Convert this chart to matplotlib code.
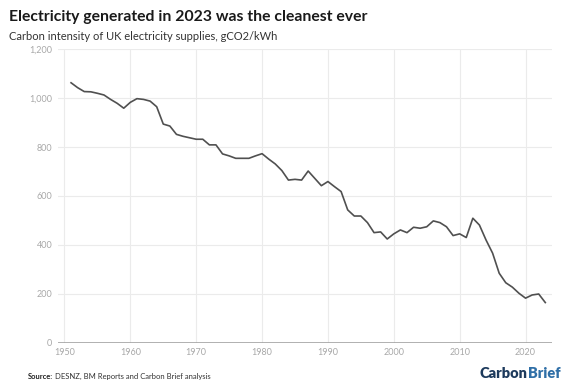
import matplotlib
matplotlib.use("Agg")
import matplotlib.pyplot as plt
from matplotlib.ticker import FuncFormatter

# carbon intensity of UK electricity supplies, gCO2/kWh
years = list(range(1951, 2024))
intensity = [1063, 1043, 1027, 1026, 1020, 1013, 995, 979, 959, 983,
             998, 995, 988, 965, 894, 886, 852, 844, 838, 832,
             832, 809, 809, 772, 764, 754, 754, 754, 764, 773,
             751, 731, 704, 665, 668, 665, 702, 672, 642, 659,
             638, 618, 543, 518, 518, 491, 450, 453, 424, 445,
             461, 450, 472, 468, 474, 498, 491, 474, 438, 445,
             430, 509, 481, 420, 366, 284, 245, 227, 202, 182,
             195, 199, 164]

x_ticks = [1950, 1960, 1970, 1980, 1990, 2000, 2010, 2020]
y_ticks = [0, 200, 400, 600, 800, 1000, 1200]

title = "Electricity generated in 2023 was the cleanest ever"
subtitle = "Carbon intensity of UK electricity supplies, gCO2/kWh"

plt.rcParams["font.family"] = ["Lato", "DejaVu Sans"]

fig = plt.figure(figsize=(5.62, 3.82), dpi=100)
ax = fig.add_axes([0.103, 0.103, 0.879, 0.768])

ax.plot(years, intensity, color="#505050", linewidth=1.2, solid_joinstyle="round")

ax.set_xlim(1949, 2024)
ax.set_ylim(0, 1200)
ax.set_xticks(x_ticks)
ax.set_yticks(y_ticks)
ax.yaxis.set_major_formatter(FuncFormatter(lambda v, p: "{:,.0f}".format(v)))

ax.grid(True, color="#ebebeb", linewidth=0.8)
ax.set_axisbelow(True)
for s in ax.spines.values():
    s.set_visible(False)
ax.axhline(0, color="#9a9a9a", linewidth=1.8, zorder=1)
ax.tick_params(length=0, labelsize=6.5, labelcolor="#a8a8a8", pad=4)

fig.text(0.016, 0.955, title, fontsize=11.3, fontweight="bold", color="#1a1a1a", va="center")
fig.text(0.016, 0.905, subtitle, fontsize=8, color="#333333", va="center")

fig.text(0.049, 0.015, "Source:", fontsize=5.5, fontweight="bold", color="#222222", va="center")
fig.text(0.097, 0.015, "DESNZ, BM Reports and Carbon Brief analysis", fontsize=5.5, color="#333333", va="center")

# logo: "Carbon" dark, "Brief" lighter blue, right-aligned at the edge
logo2 = fig.text(0.997, 0.022, "Brief", fontsize=10.5, fontweight="heavy", color="#2f6fa7",
                 ha="right", va="center")
fig.canvas.draw()
bb = logo2.get_window_extent()
fig.text(bb.x0 / fig.bbox.width, 0.022, "Carbon", fontsize=10.5, fontweight="heavy", color="#1d3a5c",
         ha="right", va="center")

fig.savefig("out.png", dpi=100, facecolor="white")
